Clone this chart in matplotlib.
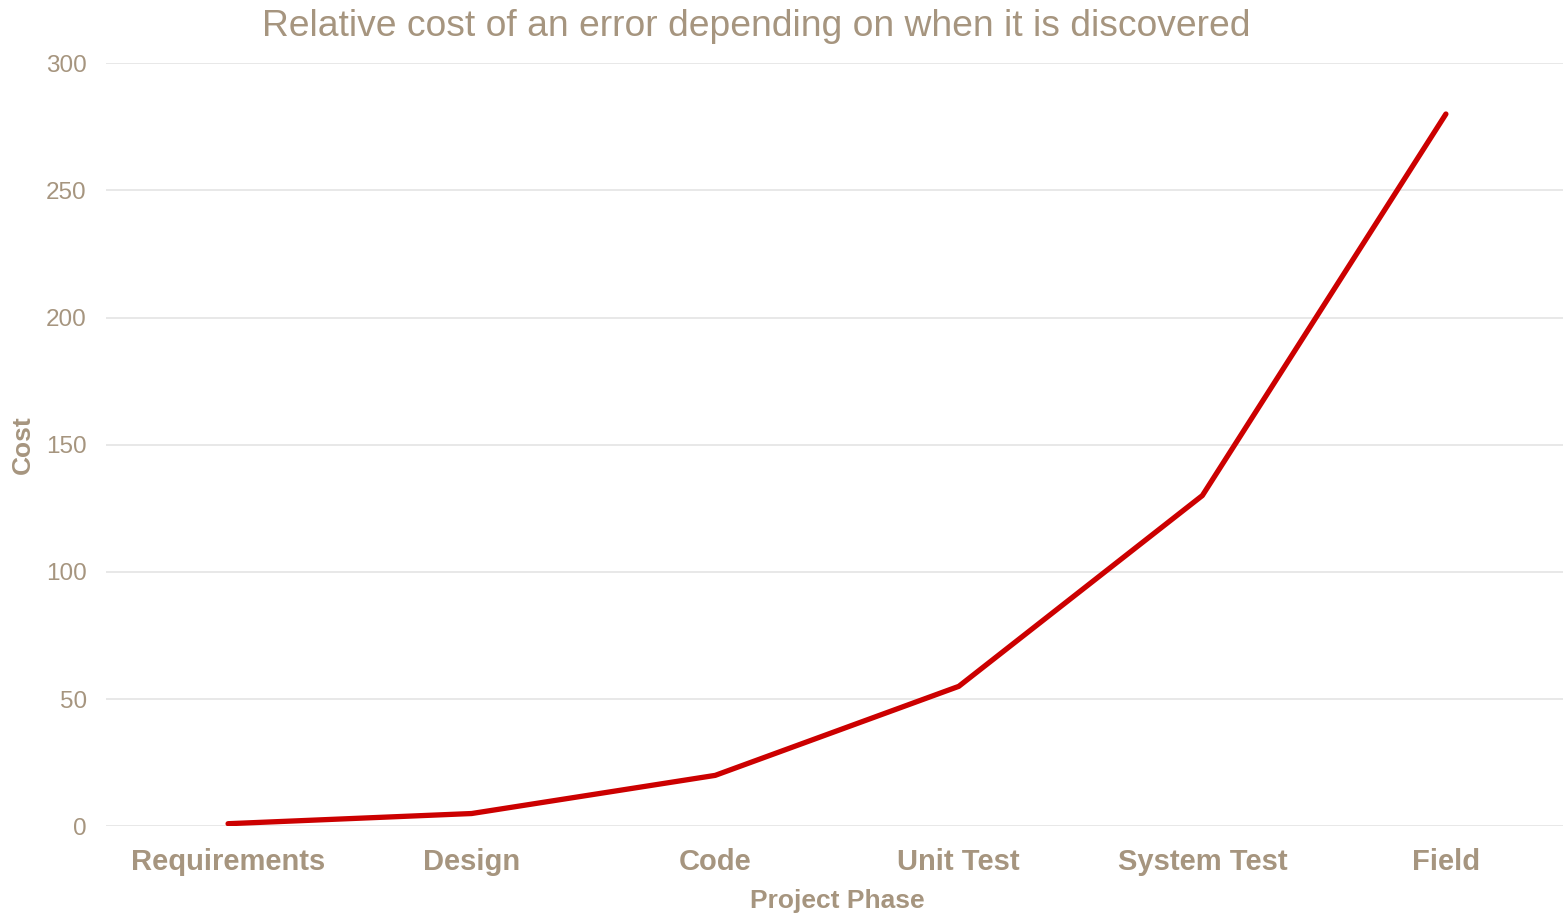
import matplotlib.pyplot as plt

# ==== 数据 ====
phases = ["Requirements", "Design", "Code", "Unit Test", "System Test", "Field"]
cost = [1, 5, 20, 55, 130, 280]
y_ticks = [0, 50, 100, 150, 200, 250, 300]

TEXT = "#A6957F"
RED = "#CC0000"
GRID = "#E6E6E6"

plt.rcParams["font.family"] = ["Liberation Sans", "DejaVu Sans"]

fig = plt.figure(figsize=(15.63, 9.15), dpi=100)
ax = fig.add_axes([0.068, 0.097, 0.935, 0.834])

x = range(len(phases))
ax.plot(x, cost, color=RED, linewidth=3.8, solid_capstyle="round", zorder=3)

ax.set_xlim(-0.5, len(phases) - 0.5)
ax.set_ylim(0, 300)
ax.set_yticks(y_ticks)
ax.set_xticks(list(x))
ax.set_xticklabels(phases, fontsize=21, fontweight="bold", color=TEXT)
ax.tick_params(axis="y", labelsize=17.5, labelcolor=TEXT, length=0, pad=14)
ax.tick_params(axis="x", length=0, pad=16)

ax.grid(axis="y", color=GRID, linewidth=1.3)
ax.set_axisbelow(True)
for s in ax.spines.values():
    s.set_visible(False)

ax.set_xlabel("Project Phase", fontsize=19, fontweight="bold", color=TEXT, labelpad=9)
ax.set_ylabel("Cost", fontsize=19, fontweight="bold", color=TEXT, labelpad=8)
fig.text(0.484, 0.971, "Relative cost of an error depending on when it is discovered",
         fontsize=26.8, color=TEXT, ha="center", va="center")

plt.savefig("out.png", dpi=100)
